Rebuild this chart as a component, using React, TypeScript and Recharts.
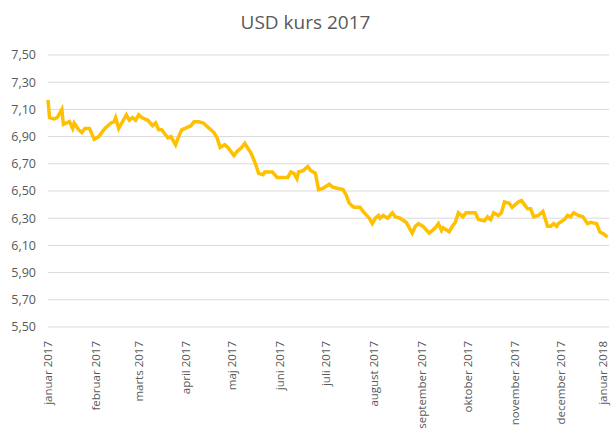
import { LineChart, Line, XAxis, YAxis, CartesianGrid } from "recharts";

// day of year (0 = 1 Jan 2017) and USD rate in DKK
const days = [
  0, 1, 4, 6, 9, 10, 14, 16, 17, 20, 22, 24, 27, 30, 33, 37, 41, 43, 44, 46,
  48, 51, 53, 55, 57, 59, 61, 65, 68, 70, 72, 74, 78, 80, 83, 85, 87, 91, 93, 95,
  98, 101, 104, 108, 110, 112, 115, 117, 121, 123, 126, 128, 132, 135, 137, 140, 141, 146, 149, 153,
  156, 158, 160, 162, 163, 166, 169, 171, 174, 176, 179, 183, 185, 188, 192, 194, 196, 199, 203, 205,
  209, 211, 213, 215, 216, 218, 221, 224, 226, 229, 233, 235, 237, 239, 241, 244, 248, 250, 252, 254,
  256, 257, 261, 263, 265, 267, 270, 272, 275, 278, 280, 284, 286, 288, 290, 293, 295, 297, 300, 302,
  306, 308, 310, 312, 314, 316, 319, 322, 325, 327, 329, 331, 332, 336, 338, 340, 342, 345, 348, 351,
  353, 357, 359, 362, 364,
];

const usd = [
  7.17, 7.04, 7.03, 7.04, 7.10, 6.99, 7.01, 6.96, 7.0, 6.95, 6.93, 6.96, 6.96, 6.88, 6.9, 6.96, 7.0, 7.01, 7.04, 6.96,
  7.0, 7.06, 7.02, 7.04, 7.02, 7.06, 7.04, 7.02, 6.98, 7.0, 6.95, 6.95, 6.89, 6.9, 6.84, 6.9, 6.95, 6.97, 6.98, 7.01,
  7.01, 7.0, 6.97, 6.93, 6.89, 6.82, 6.84, 6.82, 6.76, 6.79, 6.82, 6.85, 6.78, 6.7, 6.63, 6.62, 6.64, 6.64, 6.6, 6.6,
  6.6, 6.64, 6.63, 6.59, 6.64, 6.65, 6.68, 6.65, 6.63, 6.51, 6.52, 6.55, 6.53, 6.52, 6.51, 6.47, 6.41, 6.38, 6.38, 6.35,
  6.3, 6.26, 6.3, 6.32, 6.3, 6.32, 6.3, 6.34, 6.31, 6.3, 6.27, 6.23, 6.19, 6.24, 6.26, 6.24, 6.19, 6.21, 6.23, 6.26,
  6.21, 6.23, 6.2, 6.24, 6.27, 6.34, 6.31, 6.34, 6.34, 6.34, 6.29, 6.28, 6.31, 6.29, 6.34, 6.32, 6.34, 6.42, 6.41, 6.38,
  6.42, 6.43, 6.4, 6.37, 6.37, 6.31, 6.32, 6.35, 6.24, 6.24, 6.26, 6.24, 6.26, 6.29, 6.32, 6.31, 6.34, 6.32, 6.31, 6.26,
  6.27, 6.26, 6.2, 6.18, 6.16,
];

const monthTicks = [0, 31, 59, 90, 120, 151, 181, 212, 243, 273, 304, 334, 365];
const monthLabels = [
  "januar 2017", "februar 2017", "marts 2017", "april 2017", "maj 2017", "juni 2017", "juli 2017",
  "august 2017", "september 2017", "oktober 2017", "november 2017", "december 2017", "januar 2018",
];
const yTicks = [5.5, 5.7, 5.9, 6.1, 6.3, 6.5, 6.7, 6.9, 7.1, 7.3, 7.5];

const data = days.map((d, i) => ({ day: d, kurs: usd[i] }));

const font = "'Open Sans', sans-serif";
const textColor = "#595959";

const MonthTick = ({ x, y, payload }: any) => {
  const idx = monthTicks.indexOf(payload.value);
  const ty = y + 6;
  // the last label sits on the right edge, keep it inside the picture
  const tx = Math.min(x, 603);
  return (
    <text
      x={tx}
      y={ty}
      transform={`rotate(-90, ${tx}, ${ty})`}
      textAnchor="end"
      dy="0.35em"
      fill={textColor}
      fontSize={11.5}
      fontFamily={font}
    >
      {monthLabels[idx]}
    </text>
  );
};

const App = () => {
  return (
    <div style={{ position: "absolute", left: 0, top: 0, width: 611, height: 428, background: "#fff" }}>
      <div
        style={{
          position: "absolute",
          top: 9,
          width: 611,
          textAlign: "center",
          fontFamily: font,
          fontSize: 19,
          color: textColor,
        }}
      >
        USD kurs 2017
      </div>
      <LineChart width={611} height={428} data={data} margin={{ top: 55, right: 2, left: 0, bottom: 0 }}>
        <CartesianGrid stroke="#d9d9d9" vertical={false} />
        <XAxis
          dataKey="day"
          type="number"
          domain={[0, 365]}
          ticks={monthTicks}
          interval={0}
          height={101}
          axisLine={false}
          tickLine={false}
          tick={<MonthTick />}
        />
        <YAxis
          domain={[5.5, 7.5]}
          ticks={yTicks}
          width={48}
          axisLine={false}
          tickLine={false}
          tickMargin={6}
          tickFormatter={(v: number) => v.toFixed(2).replace(".", ",")}
          tick={{ fill: textColor, fontSize: 12.5, fontFamily: font }}
        />
        <Line
          type="linear"
          dataKey="kurs"
          stroke="#FFC000"
          strokeWidth={3.5}
          dot={false}
          isAnimationActive={false}
        />
      </LineChart>
    </div>
  );
};

export default App;
